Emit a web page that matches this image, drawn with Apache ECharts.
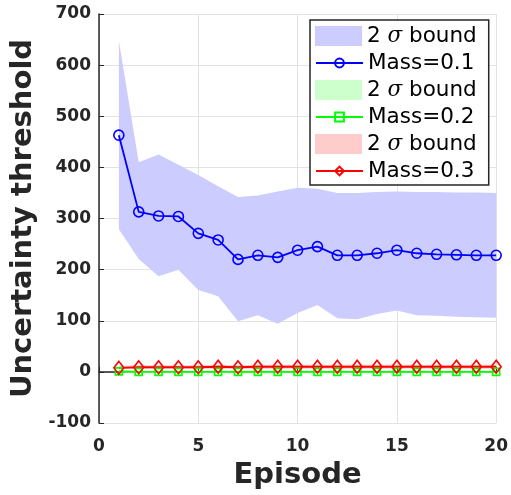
<!DOCTYPE html>
<html>
<head>
<meta charset="utf-8">
<script src="https://cdn.jsdelivr.net/npm/echarts@6/dist/echarts.min.js"></script>
<style>
  html, body { margin: 0; padding: 0; background: #fff; }
  #main { width: 511px; height: 495px; }
</style>
</head>
<body>
<div id="main"></div>
<script>
// episodes 1..20
var episodes = [1, 2, 3, 4, 5, 6, 7, 8, 9, 10, 11, 12, 13, 14, 15, 16, 17, 18, 19, 20];

// Mass=0.1 mean and 2 sigma band
var mass1 = [463, 313, 305, 304, 271, 258, 220, 228, 224, 238, 245, 228, 228, 232, 238, 232, 230, 229, 228, 228];
var up1 = [647, 410, 425, 405, 385, 363, 342, 345, 353, 360, 358, 350, 350, 352, 353, 352, 352, 351, 351, 350];
var lo1 = [279, 221, 187, 200, 160, 148, 99, 111, 94, 115, 131, 105, 103, 113, 120, 111, 110, 108, 107, 106];

// Mass=0.2
var mass2 = [1, 0, 0, 0, 0, 0, 0, 0, 0, 0, 0, 0, 0, 0, 0, 0, 0, 0, 0, 0];
var up2 = [3, 2, 2, 2, 2, 2, 2, 2, 2, 2, 2, 2, 2, 2, 2, 2, 2, 2, 2, 2];
var lo2 = [-1, -2, -2, -2, -2, -2, -2, -2, -2, -2, -2, -2, -2, -2, -2, -2, -2, -2, -2, -2];

// Mass=0.3
var mass3 = [8, 9, 9, 9, 9, 10, 9, 10, 10, 10, 10, 10, 10, 10, 10, 10, 10, 10, 10, 10];
var up3 = [12, 13, 13, 13, 13, 14, 13, 14, 14, 14, 14, 14, 14, 14, 14, 14, 14, 14, 14, 14];
var lo3 = [5, 6, 6, 6, 6, 6, 6, 6, 6, 6, 6, 6, 6, 6, 6, 6, 6, 6, 6, 6];

function pairs(ys) {
  var out = [];
  for (var i = 0; i < episodes.length; i++) {
    out.push([episodes[i], ys[i]]);
  }
  return out;
}

// 2 sigma band as one polygon (upper edge forward, lower edge back)
function band(id, lo, up, color) {
  var rows = [];
  for (var i = 0; i < episodes.length; i++) {
    rows.push([episodes[i], lo[i], up[i]]);
  }
  return {
    type: "custom", name: id, data: rows, silent: true,
    encode: { x: 0, y: [1, 2] },
    itemStyle: { color: color },
    renderItem: function (params, api) {
      if (params.dataIndex !== 0) return null;
      var pts = [];
      for (var i = 0; i < rows.length; i++) pts.push(api.coord([rows[i][0], rows[i][2]]));
      for (var j = rows.length - 1; j >= 0; j--) pts.push(api.coord([rows[j][0], rows[j][1]]));
      return { type: "polygon", shape: { points: pts }, style: { fill: color } };
    }
  };
}

function meanLine(name, ys, color, symbol, size) {
  return {
    type: "line", name: name, data: pairs(ys),
    symbol: symbol, symbolSize: size,
    lineStyle: { color: color, width: 1.8 },
    itemStyle: { color: "rgba(0,0,0,0)", borderColor: color, borderWidth: 1.6 }
  };
}

var series = [
  band("band1", lo1, up1, "#ccccff"),
  meanLine("Mass=0.1", mass1, "#0000ff", "circle", 10),
  band("band2", lo2, up2, "#ccffcc"),
  meanLine("Mass=0.2", mass2, "#00ff00", "rect", 7),
  band("band3", lo3, up3, "#ffcccc"),
  meanLine("Mass=0.3", mass3, "#ff0000", "diamond", [10, 13])
];

var myChart = echarts.init(document.getElementById("main"));
var legendText = {
  color: "#000", fontSize: 21.5, fontFamily: "DejaVu Sans",
  rich: { i: { fontStyle: "italic", fontSize: 21.5, fontFamily: "DejaVu Serif" } }
};

var option = {
  animation: false,
  grid: { left: 99, right: 14, top: 14, bottom: 69 },
  legend: [
    {
      // patches + frame
      orient: "vertical", left: 310, top: 20,
      itemWidth: 47, itemHeight: 20, itemGap: 32,
      padding: [5, 12, 30, 5],
      backgroundColor: "#fff", borderColor: "#262626", borderWidth: 1.5,
      data: [
        { name: "band1", icon: "rect", itemStyle: { color: "#ccccff" } },
        { name: "band2", icon: "rect", itemStyle: { color: "#ccffcc" } },
        { name: "band3", icon: "rect", itemStyle: { color: "#ffcccc" } }
      ],
      formatter: function () { return "2 {i|σ} bound"; },
      textStyle: legendText
    },
    {
      // lines with markers, between the patches
      orient: "vertical", left: 310, top: 47, z: 5,
      itemWidth: 47, itemHeight: 11, itemGap: 32,
      padding: [5, 5, 5, 5],
      data: ["Mass=0.1", "Mass=0.2", "Mass=0.3"],
      textStyle: legendText
    }
  ],
  xAxis: {
    type: "value", min: 0, max: 20, interval: 5,
    name: "Episode", nameLocation: "middle", nameGap: 38,
    nameTextStyle: { color: "#262626", fontWeight: "bold", fontSize: 29, fontFamily: "DejaVu Sans" },
    axisLine: { show: true, lineStyle: { color: "#262626", width: 1.5 } },
    axisTick: { show: true, inside: true, length: 5, lineStyle: { color: "#262626" } },
    axisLabel: { margin: 15, color: "#262626", fontWeight: "bold", fontSize: 17, fontFamily: "DejaVu Sans" },
    splitLine: { show: true, lineStyle: { color: "#e3e3e3", width: 1 } }
  },
  yAxis: {
    type: "value", min: -100, max: 700, interval: 100,
    name: "Uncertainty threshold", nameLocation: "middle", nameGap: 60,
    nameTextStyle: { color: "#262626", fontWeight: "bold", fontSize: 29, fontFamily: "DejaVu Sans" },
    axisLine: { show: true, lineStyle: { color: "#262626", width: 1.5 } },
    axisTick: { show: true, inside: true, length: 5, lineStyle: { color: "#262626" } },
    axisLabel: { margin: 8, color: "#262626", fontWeight: "bold", fontSize: 17, fontFamily: "DejaVu Sans" },
    splitLine: { show: true, lineStyle: { color: "#e3e3e3", width: 1 } }
  },
  series: series
};
myChart.setOption(option);
</script>
</body>
</html>
